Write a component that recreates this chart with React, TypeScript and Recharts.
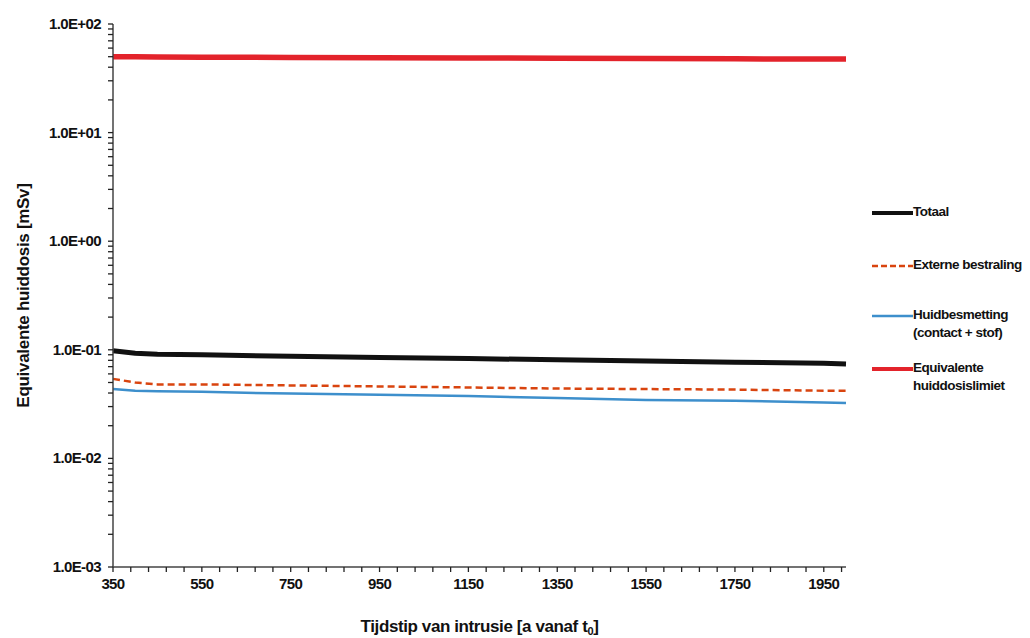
import React from "react";
import { LineChart, Line, XAxis, YAxis, Legend, Label } from "recharts";

// jaren na t0
const years = [350, 400, 450, 550, 750, 950, 1150, 1350, 1550, 1750, 1950, 2000];
// dosis in mSv
const totaal = [0.098, 0.093, 0.091, 0.09, 0.087, 0.085, 0.083, 0.081, 0.079, 0.077, 0.075, 0.074];
const externeBestraling = [0.054, 0.05, 0.048, 0.048, 0.047, 0.046, 0.045, 0.044, 0.0435, 0.043, 0.042, 0.042];
const huidbesmetting = [0.0435, 0.042, 0.0415, 0.041, 0.0395, 0.0385, 0.0375, 0.036, 0.0345, 0.034, 0.0328, 0.0323];
const limiet = [50, 50, 49.8, 49.5, 49.2, 49, 48.7, 48.4, 48.1, 47.8, 47.5, 47.5];

const xMajorTicks = [350, 550, 750, 950, 1150, 1350, 1550, 1750, 1950];
const yMajorTicks = [0.001, 0.01, 0.1, 1, 10, 100];
const yTickLabels = ["1.0E-03", "1.0E-02", "1.0E-01", "1.0E+00", "1.0E+01", "1.0E+02"];

const data = years.map((t, i) => ({
  t,
  totaal: totaal[i],
  extern: externeBestraling[i],
  huid: huidbesmetting[i],
  limiet: limiet[i],
}));

// kleine streepjes: elke 40 jaar op x, 2..9 per decade op y
const xTicks: number[] = [];
for (let v = 350; v <= 2000; v += 40) xTicks.push(v);
const yTicks: number[] = [];
yMajorTicks.forEach((d, i) => {
  yTicks.push(d);
  if (i < yMajorTicks.length - 1) for (let m = 2; m <= 9; m++) yTicks.push(+(d * m).toPrecision(2));
});

const FONT = "'Liberation Sans', Arial, sans-serif";
const TICK = 5;

const SERIES = [
  { key: "totaal", name: "Totaal", color: "#111111", width: 5, dash: undefined },
  { key: "extern", name: "Externe bestraling", color: "#d9440f", width: 2.5, dash: "7 4" },
  { key: "huid", name: "Huidbesmetting\n(contact + stof)", color: "#3d8fcc", width: 2.5, dash: undefined },
  { key: "limiet", name: "Equivalente\nhuiddosislimiet", color: "#e3232b", width: 5.5, dash: undefined },
];

function YTick(props: any) {
  const { x, y, payload } = props;
  const idx = yMajorTicks.indexOf(payload.value);
  if (idx < 0) return <g />;
  return (
    <text x={x - 7} y={y + 5} textAnchor="end" fontFamily={FONT} fontWeight="bold" fontSize={15} letterSpacing={-0.6} fill="#111">
      {yTickLabels[idx]}
    </text>
  );
}

function XTick(props: any) {
  const { x, y, payload } = props;
  if (!xMajorTicks.includes(payload.value)) return <g />;
  return (
    <text x={x} y={y + 17} textAnchor="middle" fontFamily={FONT} fontWeight="bold" fontSize={15} letterSpacing={-0.6} fill="#111">
      {payload.value}
    </text>
  );
}

function LegendBox() {
  const gaps = [0, 53, 103, 156];
  return (
    <div style={{ position: "relative", width: 170, height: 200, fontFamily: FONT, fontWeight: "bold", fontSize: 13.5, letterSpacing: -0.5, color: "#111" }}>
      {SERIES.map((s, i) => (
        <div key={s.key} style={{ position: "absolute", left: 0, top: gaps[i], display: "flex", alignItems: "flex-start" }}>
          <svg width={41} height={12} style={{ marginTop: 1 }}>
            <line x1={0} x2={41} y1={6} y2={6} stroke={s.color} strokeWidth={s.key === "extern" || s.key === "huid" ? 2.5 : 4} strokeDasharray={s.dash ? "6 3" : undefined} />
          </svg>
          <div style={{ whiteSpace: "pre", lineHeight: "18px", marginTop: -3 }}>{s.name}</div>
        </div>
      ))}
    </div>
  );
}

function YLabel(props: any) {
  const vb = props.viewBox;
  const cx = 15;
  const cy = vb.y + vb.height / 2;
  return (
    <text x={cx} y={cy} transform={`rotate(-90, ${cx}, ${cy})`} textAnchor="middle" dominantBaseline="central" fontFamily={FONT} fontWeight="bold" fontSize={17} letterSpacing={-0.3} fill="#111">
      Equivalente huiddosis [mSv]
    </text>
  );
}

function XLabel(props: any) {
  const vb = props.viewBox;
  const cx = vb.x + vb.width / 2;
  return (
    <text x={cx} y={624} textAnchor="middle" fontFamily={FONT} fontWeight="bold" fontSize={17} letterSpacing={-0.4} fill="#111">
      Tijdstip van intrusie [a vanaf t
      <tspan fontSize={11} dy={3}>0</tspan>
      <tspan dy={-3}>]</tspan>
    </text>
  );
}

export default function App() {
  return (
    <div style={{ width: 1014, height: 630, background: "#fff" }}>
      <LineChart width={1014} height={630} data={data} margin={{ top: 16, right: 176, bottom: 41, left: 10 }}>
        <XAxis
          dataKey="t"
          type="number"
          domain={[350, 2000]}
          ticks={xTicks}
          interval={0}
          tickSize={TICK}
          tickMargin={0}
          tickLine={{ stroke: "#222", strokeWidth: 1.3 }}
          tick={<XTick />}
          height={30}
          axisLine={{ stroke: "#444", strokeWidth: 1.5 }}
        >
          <Label content={<XLabel />} />
        </XAxis>
        <XAxis xAxisId="top" orientation="top" type="number" domain={[350, 2000]} height={0} tick={false} tickLine={false} axisLine={{ stroke: "#888", strokeWidth: 1.5 }} />
        <YAxis
          type="number"
          scale="log"
          domain={[0.001, 100]}
          allowDataOverflow
          ticks={yTicks}
          interval={0}
          tickSize={TICK}
          tickMargin={0}
          tickLine={{ stroke: "#222", strokeWidth: 1.3 }}
          tick={<YTick />}
          width={95}
          axisLine={{ stroke: "#444", strokeWidth: 1.5 }}
        >
          <Label content={<YLabel />} />
        </YAxis>
        <YAxis yAxisId="right" orientation="right" type="number" domain={[0, 1]} width={0} tick={false} tickLine={false} axisLine={{ stroke: "#888", strokeWidth: 1.5 }} />
        <Legend
          layout="vertical"
          align="center"
          verticalAlign="middle"
          content={<LegendBox />}
          wrapperStyle={{ position: "absolute", left: 864, top: 198, width: 170, height: 200 }}
        />
        {SERIES.map((s) => (
          <Line
            key={s.key}
            dataKey={s.key}
            name={s.name}
            type="linear"
            stroke={s.color}
            strokeWidth={s.width}
            strokeDasharray={s.dash}
            dot={false}
            activeDot={false}
            isAnimationActive={false}
          />
        ))}
      </LineChart>
    </div>
  );
}
